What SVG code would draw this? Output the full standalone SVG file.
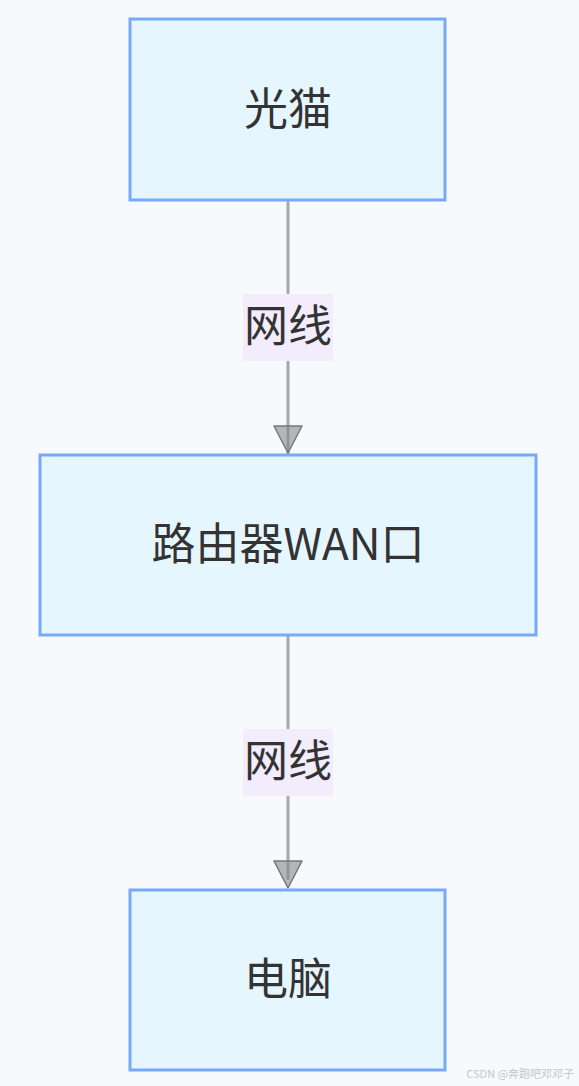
<svg xmlns="http://www.w3.org/2000/svg" width="579" height="1086" viewBox="0 0 579 1086">
<style>
.node rect{fill:#e6f6ff;stroke:#76a9fa;stroke-width:3}
.node text,.lbl text{font-family:"Noto Sans CJK SC","Noto Sans",sans-serif;font-size:44px;fill:#333;text-anchor:middle;dominant-baseline:central}
.edge{stroke:#a9a9a9;stroke-width:3;fill:none}
.lbl rect{fill:#f3ecfd}
.arrow{fill:#888;fill-opacity:0.6;stroke:#777;stroke-width:1.5;stroke-linejoin:round}
</style>
<rect width="579" height="1086" fill="#f8f9fc"/>
<g id="connectors">
<line class="edge" x1="288" y1="201" x2="288" y2="880"/>
<polygon class="arrow" points="274,426 302,426 288,453"/>
<polygon class="arrow" points="274,861 302,861 288,888"/>
<g class="lbl" id="label1"><rect x="243" y="294" width="90" height="67"/><text x="288" y="323">网线</text></g>
<g class="lbl" id="label2"><rect x="243" y="729" width="90" height="67"/><text x="288" y="758">网线</text></g>
</g>
<g class="node" id="modem"><rect x="130" y="19" width="315" height="181"/><text x="288" y="106">光猫</text></g>
<g class="node" id="router"><rect x="40" y="455" width="496" height="180"/><text x="288" y="541">路由器WAN口</text></g>
<g class="node" id="pc"><rect x="130" y="890" width="315" height="180"/><text x="288" y="976">电脑</text></g>
<text x="574" y="1078" text-anchor="end" font-family="Noto Sans CJK SC,Noto Sans,sans-serif" font-size="11" fill="#c2c6cf">CSDN @奔跑吧邓邓子</text>
</svg>
